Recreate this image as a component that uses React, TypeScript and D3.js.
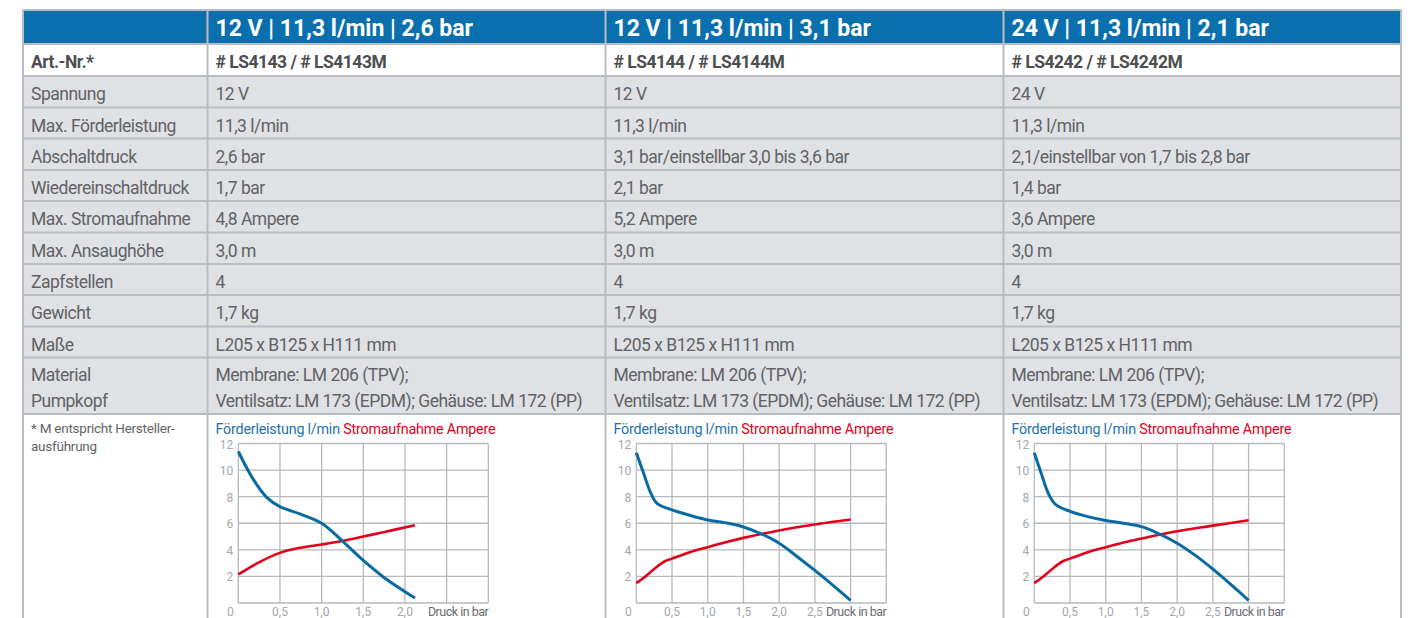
import * as React from 'react';
import * as d3 from 'd3';

// table content
const headers = ['12 V | 11,3 l/min | 2,6 bar', '12 V | 11,3 l/min | 3,1 bar', '24 V | 11,3 l/min | 2,1 bar'];
const artNr = ['# LS4143 / # LS4143M', '# LS4144 / # LS4144M', '# LS4242 / # LS4242M'];
const rowLabels = ['Spannung', 'Max. Förderleistung', 'Abschaltdruck', 'Wiedereinschaltdruck', 'Max. Stromaufnahme',
  'Max. Ansaughöhe', 'Zapfstellen', 'Gewicht', 'Maße'];
const rowValues = [
  ['12 V', '12 V', '24 V'],
  ['11,3 l/min', '11,3 l/min', '11,3 l/min'],
  ['2,6 bar', '3,1 bar/einstellbar 3,0 bis 3,6 bar', '2,1/einstellbar von 1,7 bis 2,8 bar'],
  ['1,7 bar', '2,1 bar', '1,4 bar'],
  ['4,8 Ampere', '5,2 Ampere', '3,6 Ampere'],
  ['3,0 m', '3,0 m', '3,0 m'],
  ['4', '4', '4'],
  ['1,7 kg', '1,7 kg', '1,7 kg'],
  ['L205 x B125 x H111 mm', 'L205 x B125 x H111 mm', 'L205 x B125 x H111 mm'],
];
const materialLabel = ['Material', 'Pumpkopf'];
const materialValue = ['Membrane: LM 206 (TPV);', 'Ventilsatz: LM 173 (EPDM); Gehäuse: LM 172 (PP)'];
const footnote = ['* M entspricht Hersteller-', 'ausführung'];

// curves: pressure in bar -> flow l/min, current A
const p1Flow = [0, 0.18, 0.34, 0.5, 0.74, 1.0, 1.26, 1.5, 1.74, 2.0, 2.12];
const flow1 = [11.4, 9.3, 7.95, 7.25, 6.7, 6.0, 4.6, 3.2, 1.96, 0.85, 0.38];
const p1Amp = [0, 0.26, 0.5, 0.74, 1.0, 1.26, 1.5, 1.74, 2.12];
const amp1 = [2.15, 3.1, 3.77, 4.15, 4.4, 4.68, 5.0, 5.33, 5.85];

const p2Flow = [0, 0.1, 0.2, 0.29, 0.5, 0.76, 1.0, 1.25, 1.5, 1.75, 2.0, 2.25, 2.5, 2.75, 3.0];
const flow2 = [11.3, 9.8, 8.3, 7.5, 7.0, 6.58, 6.25, 6.03, 5.72, 5.2, 4.5, 3.5, 2.45, 1.35, 0.2];
const p2Amp = [0, 0.1, 0.25, 0.4, 0.5, 0.75, 1.0, 1.25, 1.5, 2.0, 2.5, 3.0];
const amp2 = [1.5, 1.88, 2.56, 3.14, 3.34, 3.82, 4.2, 4.57, 4.9, 5.45, 5.9, 6.28];

const p3Flow = [0, 0.1, 0.2, 0.3, 0.5, 0.75, 1.0, 1.25, 1.5, 1.75, 2.0, 2.25, 2.5, 2.75, 3.0];
const flow3 = [11.3, 9.7, 8.2, 7.4, 6.9, 6.5, 6.2, 6.0, 5.75, 5.2, 4.5, 3.6, 2.55, 1.4, 0.2];
const p3Amp = [0, 0.1, 0.25, 0.4, 0.5, 0.75, 1.0, 1.25, 1.5, 2.0, 2.5, 3.0];
const amp3 = [1.5, 1.88, 2.56, 3.14, 3.34, 3.82, 4.2, 4.55, 4.85, 5.4, 5.82, 6.23];

const charts = [
  { maxP: 3.0, ticks: [0.5, 1.0, 1.5, 2.0], pf: p1Flow, f: flow1, pa: p1Amp, a: amp1 },
  { maxP: 3.5, ticks: [0.5, 1.0, 1.5, 2.0, 2.5], pf: p2Flow, f: flow2, pa: p2Amp, a: amp2 },
  { maxP: 3.5, ticks: [0.5, 1.0, 1.5, 2.0, 2.5], pf: p3Flow, f: flow3, pa: p3Amp, a: amp3 },
];
const yTicks = [2, 4, 6, 8, 10, 12];

const FONT = 'Roboto, sans-serif';
const BLUE_HEAD = '#0a6fad';
const ROW_BG = '#dfe1e4';
const BORDER = '#b9bdc1';
const TEXT = '#626366';
const BOLD_TEXT = '#4d4e50';
const LINE_BLUE = '#0a6ba3';
const LINE_RED = '#e2001a';
const GRID = '#b6babe';
const LS = -0.5; // the original face is narrower than Roboto

const colX = [23, 207.5, 605.5, 1003.5, 1401];
const rowY = [10, 44, 76, 107.5, 138.5, 170, 201, 232.5, 264, 295, 326.5, 357.5, 414, 640];

const fmt = (v: number) => d3.format('.1f')(v).replace('.', ',');

function PumpChart(props: { x0: number; c: typeof charts[0] }) {
  const { x0, c } = props;
  const left = x0 + 30.8;
  const x = d3.scaleLinear().domain([0, c.maxP]).range([left, left + 250]);
  const y = d3.scaleLinear().domain([0, 12]).range([603, 443.5]);
  const grid = d3.range(0, c.maxP + 0.01, 0.5);
  const line = d3.line<[number, number]>().x(d => x(d[0])).y(d => y(d[1])).curve(d3.curveCatmullRom.alpha(0.5));
  const flowPts = c.pf.map((p, i) => [p, c.f[i]] as [number, number]);
  const ampPts = c.pa.map((p, i) => [p, c.a[i]] as [number, number]);
  return (
    <g fontFamily={FONT}>
      <text x={x0 + 8} y={434} fontSize={14.3} letterSpacing={-0.2}>
        <tspan fill="#1f72ad">Förderleistung l/min </tspan>
        <tspan fill={LINE_RED}>Stromaufnahme Ampere</tspan>
      </text>
      {[0, ...yTicks].map(t => (
        <line key={'h' + t} x1={x(0)} x2={x(c.maxP)} y1={y(t)} y2={y(t)} stroke={GRID} strokeWidth={1.3} />
      ))}
      {grid.map(t => (
        <line key={'v' + t} x1={x(t)} x2={x(t)} y1={y(0)} y2={y(12)} stroke={GRID} strokeWidth={1.3} />
      ))}
      {yTicks.map(t => (
        <text key={'yl' + t} x={left - 5} y={y(t) + 5} textAnchor="end" fontSize={12} fill="#a3a6a9">{t}</text>
      ))}
      <text x={left - 8} y={616} textAnchor="middle" fontSize={12} fill="#a3a6a9">0</text>
      {c.ticks.map(t => (
        <text key={'xl' + t} x={x(t)} y={616} textAnchor="middle" fontSize={12} fill="#a3a6a9">{fmt(t)}</text>
      ))}
      <text x={x(c.maxP)} y={616} textAnchor="end" fontSize={12.5} letterSpacing={-0.5} fill="#6b6d70">Druck in bar</text>
      <path d={line(ampPts) || ''} fill="none" stroke={LINE_RED} strokeWidth={2.6} />
      <path d={line(flowPts) || ''} fill="none" stroke={LINE_BLUE} strokeWidth={3} />
    </g>
  );
}

export default function App() {
  const W = 1411, H = 618;
  return (
    <svg width={W} height={H} style={{ position: 'absolute', left: 0, top: 0, background: '#fff' }} fontFamily={FONT}>
      {/* header */}
      <rect x={colX[0]} y={rowY[0]} width={colX[4] - colX[0]} height={rowY[1] - rowY[0]} fill={BLUE_HEAD} />
      {headers.map((h, i) => (
        <text key={h} x={colX[i + 1] + 8} y={rowY[0] + 26} fill="#fff" fontWeight="bold" fontSize={23}>{h}</text>
      ))}
      {/* art nr */}
      <text x={colX[0] + 8} y={rowY[1] + 24} fill={BOLD_TEXT} fontWeight="bold" fontSize={17.5} letterSpacing={LS}>Art.-Nr.*</text>
      {artNr.map((a, i) => (
        <text key={a} x={colX[i + 1] + 8} y={rowY[1] + 24} fill={BOLD_TEXT} fontWeight="bold" fontSize={17.5} letterSpacing={LS}>{a}</text>
      ))}
      {/* grey rows */}
      <rect x={colX[0]} y={rowY[2]} width={colX[4] - colX[0]} height={rowY[12] - rowY[2]} fill={ROW_BG} />
      {rowLabels.map((l, r) => (
        <g key={l} fontSize={17.5} letterSpacing={LS} fill={TEXT}>
          <text x={colX[0] + 8} y={rowY[r + 2] + 24}>{l}</text>
          {rowValues[r].map((v, i) => (
            <text key={i} x={colX[i + 1] + 8} y={rowY[r + 2] + 24}>{v}</text>
          ))}
        </g>
      ))}
      <g fontSize={17.5} letterSpacing={LS} fill={TEXT}>
        {materialLabel.map((l, k) => (
          <text key={l} x={colX[0] + 8} y={rowY[11] + 23 + k * 26}>{l}</text>
        ))}
        {[0, 1, 2].map(i => materialValue.map((v, k) => (
          <text key={i + '-' + k} x={colX[i + 1] + 8} y={rowY[11] + 23 + k * 26}>{v}</text>
        )))}
      </g>
      {footnote.map((f, k) => (
        <text key={f} x={colX[0] + 8} y={rowY[12] + 19 + k * 18} fill={TEXT} fontSize={13.5} letterSpacing={-0.25}>{f}</text>
      ))}
      {/* borders */}
      {rowY.slice(1, 13).map((yy, k) => (
        <line key={'rb' + k} x1={colX[0]} x2={colX[4]} y1={yy} y2={yy} stroke={BORDER} strokeWidth={2} />
      ))}
      <line x1={colX[0]} x2={colX[4]} y1={rowY[0]} y2={rowY[0]} stroke={BORDER} strokeWidth={2} />
      {colX.map((xx, k) => (
        <line key={'cb' + k} x1={xx} x2={xx} y1={rowY[0]} y2={H} stroke={BORDER} strokeWidth={2} />
      ))}
      {charts.map((c, i) => (
        <PumpChart key={i} x0={colX[i + 1]} c={c} />
      ))}
    </svg>
  );
}
